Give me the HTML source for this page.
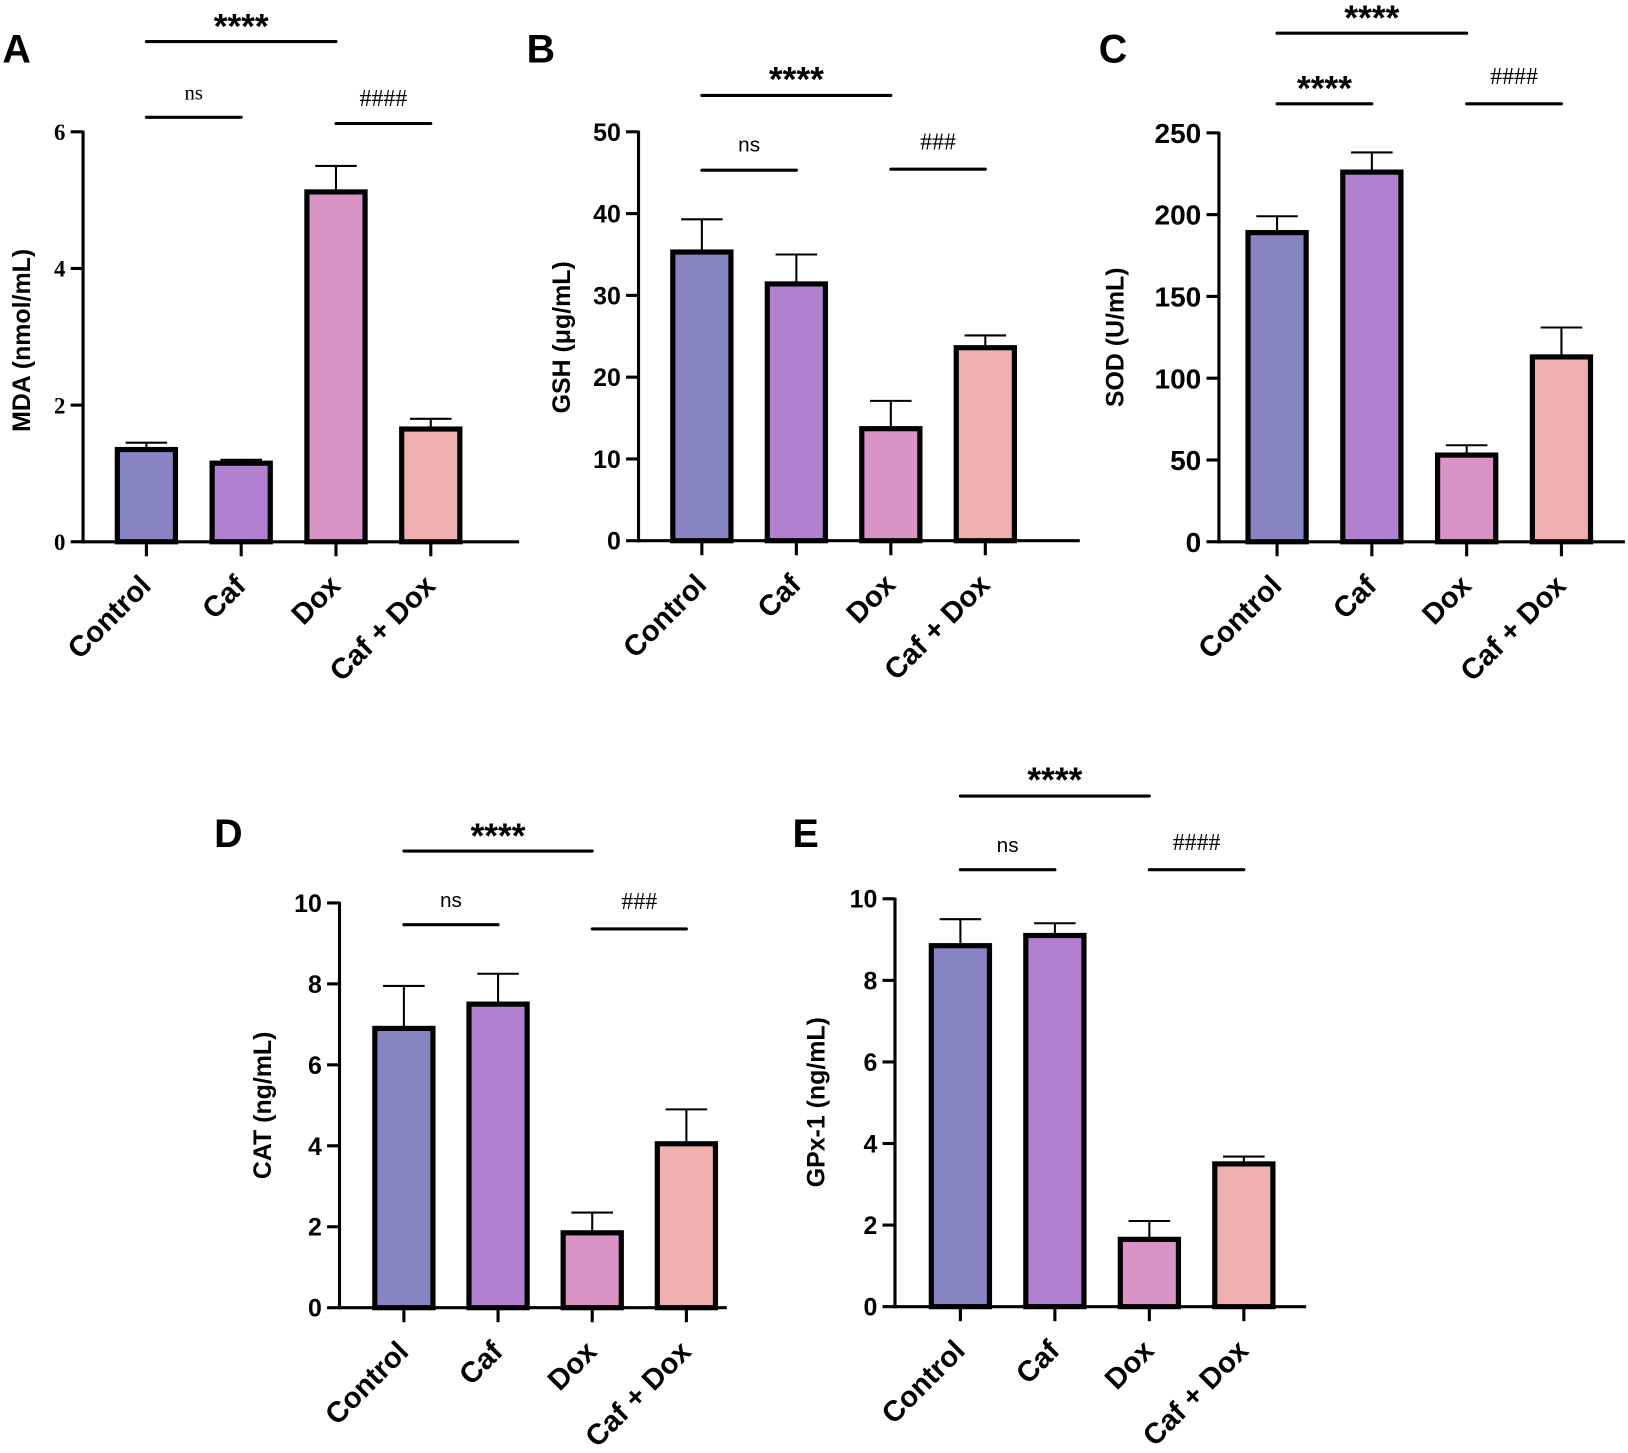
<!DOCTYPE html>
<html><head><meta charset="utf-8"><style>
html,body{margin:0;padding:0;background:#fff;}
svg{display:block;}
text{font-family:"Liberation Sans",sans-serif;}
</style></head><body>
<svg id="fig" width="1628" height="1453" viewBox="0 0 1568 1400" preserveAspectRatio="none" xmlns="http://www.w3.org/2000/svg"></svg>
<script>
const categories = ["Control","Caf","Dox","Caf + Dox"];
const colors = ["#8684c3","#b280d1","#d994c5","#f0b0b0"];
const mdaValues = [1.35,1.15,5.12,1.65];
const mdaErr = [1.45,1.2,5.5,1.8];
const mdaTicks = [0,2,4,6];
const gshValues = [35.3,31.4,13.7,23.6];
const gshErr = [39.3,35.0,17.1,25.1];
const gshTicks = [0,10,20,30,40,50];
const sodValues = [189,226,53,113];
const sodErr = [199,238,59,131];
const sodTicks = [0,50,100,150,200,250];
const catValues = [6.9,7.5,1.85,4.05];
const catErr = [7.95,8.25,2.35,4.9];
const catTicks = [0,2,4,6,8,10];
const gpxValues = [8.85,9.1,1.65,3.5];
const gpxErr = [9.5,9.4,2.1,3.68];
const gpxTicks = [0,2,4,6,8,10];

const panels = [
 {id:"a",letter:"A",lx:16,ly:47,ax:80,y0:522,yTop:127,xEnd:500,c0:141,step:91.3,vals:mdaValues,err:mdaErr,ticks:mdaTicks,title:"MDA (nmol/mL)",tx:20,ty:328,serif:true,tfs:22,
  sig:[{t:"****",x1:0,x2:2,ly:40,ty:20,star:true},{t:"ns",x1:0,x2:1,ly:113,ty:88},{t:"####",x1:2,x2:3,ly:119,ty:94}]},
 {id:"b",letter:"B",lx:521,ly:47,ax:615,y0:521,yTop:127,xEnd:1040,c0:676,step:91,vals:gshValues,err:gshErr,ticks:gshTicks,title:"GSH (\u03bcg/mL)",tx:540,ty:325,tfs:24,
  sig:[{t:"****",x1:0,x2:2,ly:92,ty:71,star:true},{t:"ns",x1:0,x2:1,ly:164,ty:138},{t:"###",x1:2,x2:3,ly:163,ty:136}]},
 {id:"c",letter:"C",lx:1072,ly:47,ax:1174,y0:522,yTop:128,xEnd:1565,c0:1230,step:91.3,vals:sodValues,err:sodErr,ticks:sodTicks,title:"SOD (U/mL)",tx:1073,ty:325,tfs:27,
  sig:[{t:"****",x1:0,x2:2,ly:32,ty:12,star:true},{t:"****",x1:0,x2:1,ly:100,ty:80,star:true},{t:"####",x1:2,x2:3,ly:100,ty:73}]},
 {id:"d",letter:"D",lx:220,ly:803,ax:327,y0:1260,yTop:870,xEnd:700,c0:389,step:90.7,vals:catValues,err:catErr,ticks:catTicks,title:"CAT (ng/mL)",tx:252,ty:1065,tfs:24,
  sig:[{t:"****",x1:0,x2:2,ly:820,ty:800,star:true},{t:"ns",x1:0,x2:1,ly:891,ty:866},{t:"###",x1:2,x2:3,ly:895,ty:868}]},
 {id:"e",letter:"E",lx:776,ly:803,ax:862,y0:1259,yTop:866,xEnd:1258,c0:925,step:91,vals:gpxValues,err:gpxErr,ticks:gpxTicks,title:"GPx-1 (ng/mL)",tx:785,ty:1062,tfs:24,
  sig:[{t:"****",x1:0,x2:2,ly:767,ty:746,star:true},{t:"ns",x1:0,x2:1,ly:838,ty:813},{t:"####",x1:2,x2:3,ly:838,ty:811}]}
];

const svg = document.getElementById("fig");
const NS = "http://www.w3.org/2000/svg";
function mk(tag, attrs, parent){
  const e = document.createElementNS(NS, tag);
  for (const k in attrs) e.setAttribute(k, attrs[k]);
  parent.appendChild(e);
  return e;
}

panels.forEach(p => {
  const g = mk("g", {}, svg);
  
  
  const yMax = p.ticks[p.ticks.length-1];
  const yScale = v => p.y0 - (v / yMax) * (p.y0 - p.yTop);
  const xScale = i => p.c0 + i * p.step;
  const bw = 56;

  const letter = mk("text", {x:p.lx, y:p.ly+13, "font-size":38, "font-weight":"bold", "text-anchor":"middle"}, g);
  letter.textContent = p.letter;
  
  

  p.vals.forEach((v, i) => {
    const cx = xScale(i);
    const eb = mk("g", {}, g);
    
    
    mk("line", {x1:cx, x2:cx, y1:yScale(v), y2:yScale(p.err[i]), stroke:"#000", "stroke-width":2}, eb);
    mk("line", {x1:cx-20, x2:cx+20, y1:yScale(p.err[i]), y2:yScale(p.err[i]), stroke:"#000", "stroke-width":2}, eb);
    const r = mk("rect", {x:cx-bw/2, y:yScale(v), width:bw, height:p.y0-yScale(v), fill:colors[i], stroke:"#000", "stroke-width":5}, g);
    
    
  });

  const ya = mk("line", {x1:p.ax, x2:p.ax, y1:p.yTop-1, y2:p.y0+1.5, stroke:"#000", "stroke-width":3}, g);
  
  
  const xa = mk("line", {x1:p.ax-1.5, x2:p.xEnd, y1:p.y0, y2:p.y0, stroke:"#000", "stroke-width":3}, g);
  
  

  p.ticks.forEach(t => {
    const y = yScale(t);
    mk("line", {x1:p.ax-12, x2:p.ax, y1:y, y2:y, stroke:"#000", "stroke-width":3}, g);
    const tl = mk("text", {x:p.ax-17, y:y+p.tfs*0.36, "font-size":p.tfs, "font-weight":"bold", "text-anchor":"end"}, g);
    if (p.serif) tl.setAttribute("style", "font-family:'Liberation Serif',serif");
    tl.textContent = t;
    
    
  });

  categories.forEach((c, i) => {
    const cx = xScale(i);
    mk("line", {x1:cx, x2:cx, y1:p.y0, y2:p.y0+14, stroke:"#000", "stroke-width":3}, g);
    const xl = mk("text", {x:0, y:0, "font-size":28, "font-weight":"bold", "text-anchor":"end",
      transform:"translate(" + (cx+6) + "," + (p.y0+44) + ") rotate(-45)"}, g);
    xl.textContent = c;
    
    
  });

  const yt = mk("text", {x:0, y:0, "font-size":24, "font-weight":"bold", "text-anchor":"middle",
    transform:"translate(" + (p.tx+9) + "," + p.ty + ") rotate(-90)"}, g);
  yt.textContent = p.title;
  
  

  p.sig.forEach((s, k) => {
    const x1 = xScale(s.x1), x2 = xScale(s.x2);
    const sl = mk("line", {x1:x1, x2:x2, y1:s.ly, y2:s.ly, stroke:"#000", "stroke-width":3, "stroke-linecap":"round"}, g);
    
    
    const isHash = s.t.charAt(0) === "#";
    const st = mk("text", {x:(x1+x2)/2, y:s.ty + (s.star ? 17 : 8), "text-anchor":"middle",
      "font-size": s.star ? 34 : (isHash ? 23 : 20), "font-weight": s.star ? "bold" : "normal"}, g);
    if (!s.star && (isHash || p.id === "a")) st.setAttribute("style", "font-family:'Liberation Serif',serif");
    st.textContent = s.t;
    
    
  });
});
</script>
</body></html>
